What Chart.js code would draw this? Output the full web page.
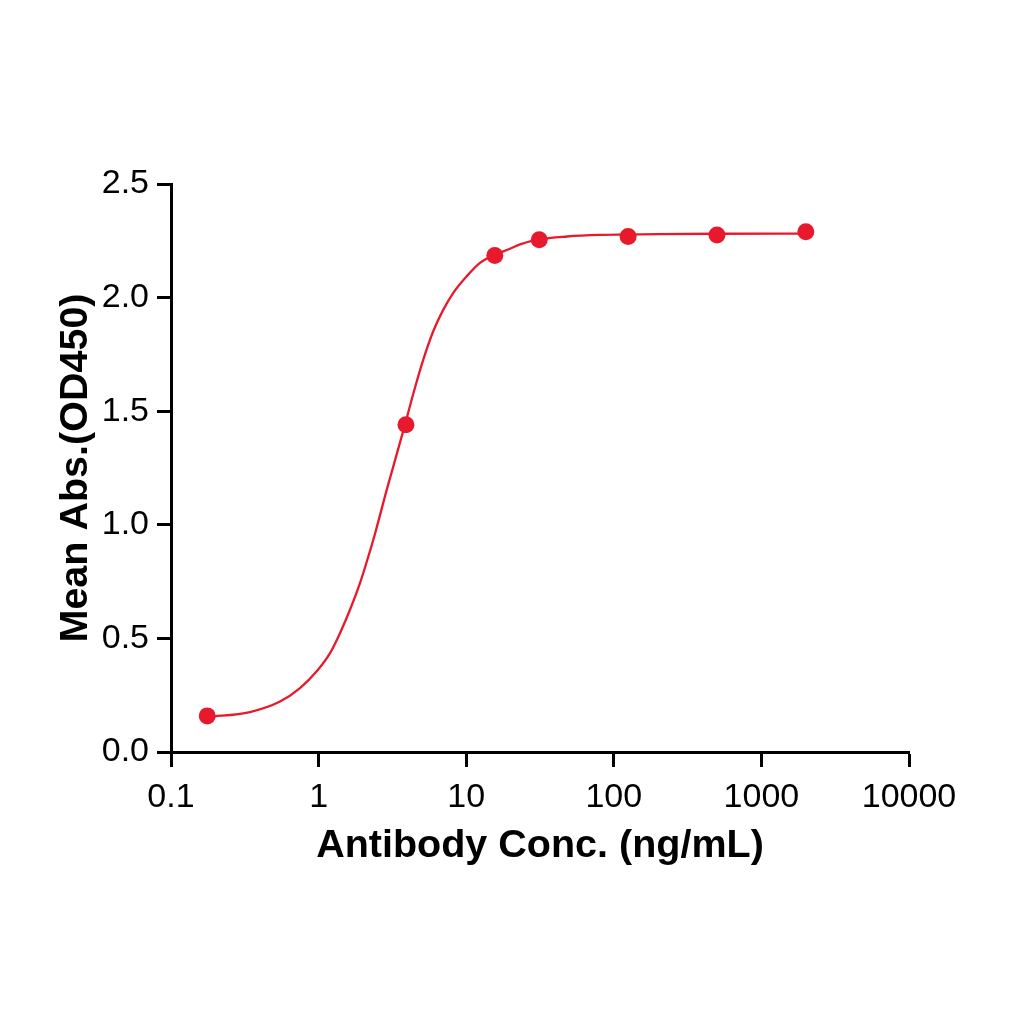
<!DOCTYPE html>
<html><head><meta charset="utf-8">
<script src="https://cdn.jsdelivr.net/npm/chart.js@4"></script>
<style>html,body{margin:0;padding:0;background:#fff}#wrap{width:1024px;height:1024px}</style>
</head><body><div id="wrap"><canvas id="c" width="1024" height="1024"></canvas></div>
<script>
// measured points
const concentrations = [0.176, 3.906, 15.625, 31.25, 125, 500, 2000];
const meanAbs = [0.159, 1.440, 2.185, 2.255, 2.269, 2.276, 2.290];
// fitted curve
const fitConc = [0.178, 0.343, 0.548, 0.748, 0.971, 1.195, 1.396, 1.632, 1.907, 2.172, 2.348, 2.91, 3.85, 4.38, 5.12, 5.98, 7.00, 8.18, 10.08, 12.40, 15.67, 19.80, 23.14, 31.1, 48.2, 80.7, 200, 500, 2000];
const fitAbs  = [0.154, 0.176, 0.222, 0.281, 0.355, 0.435, 0.523, 0.626, 0.743, 0.860, 0.934, 1.159, 1.441, 1.577, 1.727, 1.852, 1.947, 2.021, 2.094, 2.153, 2.189, 2.215, 2.234, 2.256, 2.269, 2.276, 2.279, 2.281, 2.282];
const xTickValues = [0.1, 1, 10, 100, 1000, 10000];
const xTickLabels = ['0.1', '1', '10', '100', '1000', '10000'];
const yTickLabels = ['0.0', '0.5', '1.0', '1.5', '2.0', '2.5'];

const FONT = '"Liberation Sans", Arial, sans-serif';
const RED = '#E8192C';

new Chart(document.getElementById('c'), {
  type: 'scatter',
  data: {
    datasets: [
      {
        label: 'Mean Abs.',
        data: concentrations.map((x, i) => ({x, y: meanAbs[i]})),
        backgroundColor: RED,
        borderColor: RED,
        pointRadius: 8.5,
        pointBorderWidth: 0,
        showLine: false
      },
      {
        label: 'Fit',
        data: fitConc.map((x, i) => ({x, y: fitAbs[i]})),
        showLine: true,
        borderColor: RED,
        borderWidth: 2.3,
        pointRadius: 0,
        cubicInterpolationMode: 'monotone',
        fill: false
      }
    ]
  },
  options: {
    responsive: false,
    animation: false,
    devicePixelRatio: 1,
    layout: { padding: { left: 0, top: 184, right: 115, bottom: 0 } },
    plugins: { legend: { display: false }, tooltip: { enabled: false } },
    scales: {
      x: {
        type: 'logarithmic',
        min: 0.1, max: 10000,
        afterBuildTicks: s => { s.ticks = xTickValues.map(v => ({value: v})); },
        afterFit: s => { s.height = 272; },
        border: { display: true, color: '#000', width: 3 },
        grid: { display: true, drawOnChartArea: false, drawTicks: true, tickLength: 15, tickWidth: 3, tickColor: '#000' },
        ticks: {
          color: '#000', padding: 10, maxRotation: 0, autoSkip: false,
          font: { family: FONT, size: 34 },
          callback: (v, i) => xTickLabels[i]
        },
        title: {
          display: true, text: 'Antibody Conc. (ng/mL)', color: '#000',
          font: { family: FONT, size: 39.5, weight: 'bold' },
          padding: { top: 0, bottom: 154 }
        }
      },
      y: {
        min: 0, max: 2.5,
        afterFit: s => { s.width = 171; },
        border: { display: true, color: '#000', width: 3 },
        grid: { display: true, drawOnChartArea: false, drawTicks: true, tickLength: 14, tickWidth: 3, tickColor: '#000' },
        ticks: {
          stepSize: 0.5, color: '#000', padding: 8,
          font: { family: FONT, size: 34 },
          callback: (v, i) => yTickLabels[i]
        },
        title: {
          display: true, text: 'Mean Abs.(OD450)', color: '#000',
          font: { family: FONT, size: 39.5, weight: 'bold' },
          padding: { top: 52, bottom: 0 }
        }
      }
    }
  }
});
</script></body></html>
